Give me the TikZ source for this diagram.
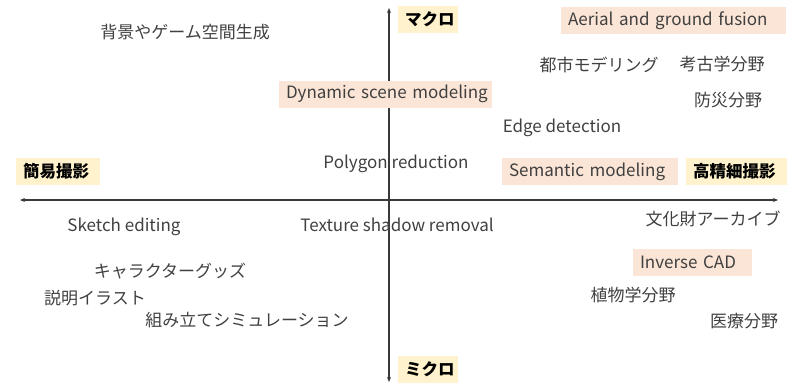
\documentclass[tikz,border=0pt]{standalone}
\usepackage{fontspec}
\setmainfont{Noto Sans CJK JP}
\usetikzlibrary{arrows.meta}
\definecolor{peach}{HTML}{FBE5D6}
\definecolor{pale}{HTML}{FFF2CC}
\definecolor{txt}{HTML}{404040}
\begin{document}
\begin{tikzpicture}[x=1pt,y=-1pt,
  lab/.style={font=\fontsize{17}{19}\selectfont, text=txt, inner sep=0pt, yshift=-1pt},
  topic/.style={lab, fill=peach, minimum height=27pt, inner xsep=7pt, align=left, text width=#1-14pt},
  axislab/.style={font=\fontsize{16.5}{19}\selectfont\bfseries, text=black, fill=pale, minimum height=27pt, inner xsep=7pt, inner ysep=0pt, yshift=-1pt, align=left, text width=#1-14pt},
  axisline/.style={draw=txt!90!black, line width=1.2pt, {Stealth[length=5pt,width=4pt]}-{Stealth[length=5pt,width=4pt]}}]
\useasboundingbox (0,0) rectangle (791,383);
\coordinate (L) at (20,200);
\coordinate (R) at (778,200);
\coordinate (T) at (389,8);
\coordinate (B) at (389,382);
\draw[axisline] (L) -- (R);
\draw[axisline] (T) -- (B);
\node[axislab=60pt] (macro) at (428,18.5) {\mbox{マクロ}};
\node[axislab=60pt] (micro) at (428,368.5) {\mbox{ミクロ}};
\node[axislab=84pt] (simple) at (58,170.5) {\mbox{簡易撮影}};
\node[axislab=101pt] (hires) at (736.5,170.5) {\mbox{高精細撮影}};
\node[topic=225pt] (aerial) at (673.5,19.5) {\mbox{Aerial and ground fusion}};
\node[topic=213pt] (dynamic) at (385.5,93) {\mbox{Dynamic scene modeling}};
\node[topic=176pt] (semantic) at (590,170.5) {\mbox{Semantic modeling}};
\node[topic=119pt] (inverse) at (692.5,261.5) {\mbox{Inverse CAD}};
\node[lab] (haikei) at (185,31) {背景やゲーム空間生成};
\node[lab] (toshi) at (599,64) {都市モデリング};
\node[lab] (kouko) at (722,63) {考古学分野};
\node[lab] (bousai) at (728,99) {防災分野};
\node[lab] (edge) at (562,127) {Edge detection};
\node[lab] (polygon) at (396,163) {Polygon reduction};
\node[lab] (sketch) at (124,226) {Sketch editing};
\node[lab] (texture) at (397,224) {Texture shadow removal};
\node[lab] (bunka) at (713,218) {文化財アーカイブ};
\node[lab] (chara) at (170,270) {キャラクターグッズ};
\node[lab] (setsumei) at (95,297) {説明イラスト};
\node[lab] (shokubutsu) at (633,294) {植物学分野};
\node[lab] (kumitate) at (247,319) {組み立てシミュレーション};
\node[lab] (iryou) at (744,320) {医療分野};
\end{tikzpicture}
\end{document}
